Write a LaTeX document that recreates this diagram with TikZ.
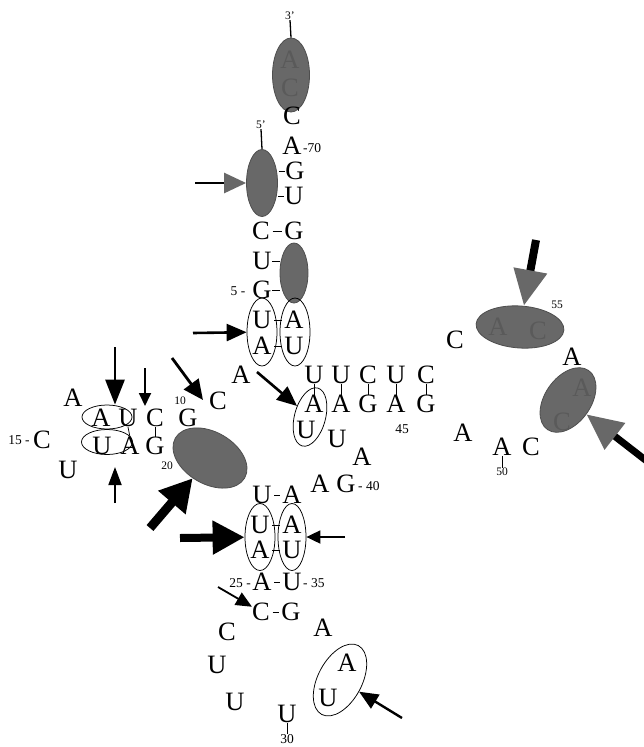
\documentclass[tikz,border=0pt]{standalone}
\usepackage{fontspec}
\setmainfont{Liberation Serif}
\usetikzlibrary{arrows.meta,shapes.geometric}
\definecolor{blobgray}{RGB}{104,104,104}
\definecolor{blobedge}{RGB}{78,78,78}
\definecolor{ghostgray}{RGB}{90,90,90}
\begin{document}
\begin{tikzpicture}[x=1pt,y=-1pt,
  nt/.style={font=\fontsize{26.5}{26.5}\selectfont, inner sep=0pt},
  num/.style={font=\fontsize{13.5}{13.5}\selectfont, inner sep=0pt},
  tiny/.style={font=\fontsize{11.5}{11.5}\selectfont, inner sep=0pt},
  ghost/.style={nt, text=ghostgray},
  ring/.style={draw, ellipse, line width=0.75pt, inner sep=0pt},
  blob/.style={ellipse, fill=blobgray, draw=blobedge, line width=0.8pt, inner sep=0pt},
  bond/.style={line width=0.9pt, shorten <=2.5pt, shorten >=2.5pt},
  tick/.style={line width=0.75pt},
  endtick/.style={line width=1.3pt},
  arrS/.style={line width=1.8pt, -{Triangle[length=13pt,width=12pt]}},
  arrM/.style={line width=2.6pt, -{Triangle[length=20pt,width=17pt]}},
  arrB/.style={line width=9pt, -{Triangle[length=32pt,width=34pt]}},
  arrG/.style={line width=2.6pt, -{Triangle[length=22pt,width=20pt,color=blobgray]}},
  arrGB/.style={line width=8pt, -{Triangle[length=36pt,width=32pt,color=blobgray]}},
]
\useasboundingbox (0,0) rectangle (643,747);

% ---------------- acceptor stem, 3' and 5' ends ----------------
\node[blob, minimum width=37pt, minimum height=74pt] (g1) at (291,75) {};
\node[ghost] (g1a) at (290,60) {A};
\node[ghost] (g1c) at (290,88) {C};
\node[tiny] (p3) at (290,16) {3'};
\draw[endtick] (p3.south) -- (g1.north);
\node[nt] (c74) at (292,116) {C};
\node[tiny] (p5) at (261,125) {5'};
\node[nt] (a70) at (292,146) {A};
\node[num, anchor=west] (n70) at (303,148) {-70};
\node[blob, minimum width=31pt, minimum height=67pt] (g2) at (262,183) {};
\draw[endtick] (p5.south) -- (g2.north);
\node[nt] (g71) at (295,171) {G};
\node[nt] (u72) at (294,196) {U};
\draw[tick] (g71.west) -- ++(-6,0);
\draw[tick] (u72.west) -- ++(-6,0);
\coordinate (t1) at (195,183);
\draw[arrG] (t1) -- (g2);

\node[nt] (c3) at (261,231) {C};
\node[nt] (g3) at (294,231) {G};
\node[blob, minimum width=28pt, minimum height=60pt] (g3b) at (294,273) {};
\draw[bond] (c3) -- (g3);
\node[nt] (u4) at (262,261) {U};
\node[nt] (g5) at (262,290) {G};
\node[num] (n5) at (238,291) {5 -};
\draw[tick] (u4.east) -- (g3b.west |- u4.east);
\draw[tick] (g5.east) -- (g3b.west |- g5.east);

% open pair U6-A67 / A7-U66
\node[ring, minimum width=30pt, minimum height=68pt] (r1) at (262,332) {};
\node[ring, minimum width=30pt, minimum height=68pt] (r2) at (295,332) {};
\node[nt] (u6) at (262,320) {U};
\node[nt] (a7) at (262,346) {A};
\node[nt] (a67) at (294,320) {A};
\node[nt] (u66) at (294,346) {U};
\draw[bond] (u6) -- (a67);
\draw[bond] (a7) -- (u66);
\coordinate (t2) at (193,333);
\draw[arrM] (t2) -- (r1);

\node[nt] (a8) at (241,375) {A};

% ---------------- T arm ----------------
\foreach \i/\x/\top/\bot in {1/314/U/A, 2/341/U/A, 3/368/C/G, 4/396/U/A, 5/426/C/G} {
  \node[nt] (tt\i) at (\x,375) {\top};
  \node[nt] (tb\i) at (\x,404) {\bot};
  \draw[tick] (tt\i.south) -- (tb\i.north);
}
\node[ring, minimum width=31pt, minimum height=60pt, rotate=-15] (r3) at (310,417) {};
\node[nt] (u48) at (306,430) {U};
\node[num] (n45) at (402,429) {45};
\coordinate (t3) at (257,372);
\draw[arrM] (t3) -- (r3);

\node[nt] (u47) at (337,439) {U};
\node[nt] (a46) at (362,457) {A};
\node[nt] (a41) at (320,484) {A};
\node[nt] (g40) at (346,484) {G};
\node[num, anchor=west] (n40) at (358,486) {- 40};

% ---------------- T loop (right) ----------------
\node[nt] (c56) at (455,340) {C};
\node[blob, minimum width=88pt, minimum height=42pt, rotate=-4] (g5b) at (520,327) {};
\node[ghost] (g5a) at (498,327) {A};
\node[ghost] (g5c) at (538,331) {C};
\node[tiny] (n55) at (557,305) {55};
\coordinate (t4) at (536,240);
\draw[arrGB] (t4) -- (g5b);
\node[nt] (a52) at (572,357) {A};
\node[blob, minimum width=72pt, minimum height=46pt, rotate=55] (g6) at (568,400) {};
\node[ghost] (g6a) at (582,388) {A};
\node[ghost] (g6c) at (562,422) {C};
\coordinate (t5) at (648,462);
\draw[arrGB, line width=7pt] (t5) -- (g6);
\node[nt] (a49) at (463,433) {A};
\node[nt] (a50) at (502,447) {A};
\node[tiny] (n50) at (502,472) {50};
\draw[tick] (a50.south) -- (n50.north);
\node[nt] (c51) at (531,447) {C};

% ---------------- D arm (left) ----------------
\node[nt] (a14) at (73,398) {A};
\node[ring, minimum width=50pt, minimum height=24pt] (rt) at (107,417) {};
\node[ring, minimum width=51pt, minimum height=25pt] (rb) at (107,442) {};
\node[nt] (a12) at (101,418) {A};
\node[nt] (u11) at (128,418) {U};
\node[nt] (c10) at (155,418) {C};
\node[nt] (g9) at (188,418) {G};
\node[tiny] (n10) at (180,401) {10};
\node[nt] (u22) at (102,446) {U};
\node[nt] (a21) at (130,446) {A};
\node[nt] (g20) at (155,446) {G};
\draw[tick] (u11.south) -- (a21.north);
\draw[tick] (c10.south) -- (g20.north);
\node[nt] (c15) at (42,440) {C};
\node[num] (n15) at (19,440) {15 -};
\node[nt] (u16) at (68,470) {U};
\node[tiny] (n20) at (167,466) {20};
\node[nt] (c13) at (218,401) {C};

\coordinate (t6) at (115,347);
\draw[line width=2.8pt, -{Triangle[length=25pt,width=19pt]}] (t6) -- (t6 |- rt.north);
\coordinate (t7) at (145,368);
\coordinate (h7) at (145,406);
\draw[arrS] (t7) -- (h7);
\coordinate (t8) at (172,358);
\coordinate (h8) at (203,400);
\draw[line width=2.8pt, -{Triangle[length=20pt,width=18pt]}] (t8) -- (h8);
\coordinate (t9) at (115,503);
\coordinate (h9) at (115,467);
\draw[line width=1.8pt, -{Triangle[length=18pt,width=13pt]}] (t9) -- (h9);

\node[blob, minimum width=80pt, minimum height=52pt, rotate=-30] (g4) at (210,458) {};
\coordinate (t10) at (150,528);
\draw[arrB] (t10) -- (g4);

% ---------------- anticodon arm ----------------
\node[nt] (u27) at (262,495) {U};
\node[nt] (a43) at (292,495) {A};
\draw[bond] (u27) -- (a43);
\node[ring, minimum width=30pt, minimum height=67pt] (r4) at (260,537) {};
\node[ring, minimum width=28pt, minimum height=67pt] (r5) at (292,537) {};
\node[nt] (u26) at (260,525) {U};
\node[nt] (a25) at (260,550) {A};
\node[nt] (a38) at (292,525) {A};
\node[nt] (u37) at (292,550) {U};
\draw[bond] (u26) -- (a38);
\draw[bond] (a25) -- (u37);
\coordinate (t11) at (180,538);
\draw[line width=8pt, -{Triangle[length=32pt,width=32pt]}] (t11) -- (r4);
\coordinate (t12) at (345,537);
\draw[line width=1.8pt, -{Triangle[length=14pt,width=13pt]}] (t12) -- (r5);

\node[nt] (a24) at (262,582) {A};
\node[nt] (u36) at (292,582) {U};
\draw[bond] (a24) -- (u36);
\node[num, anchor=east] (n25) at (251,583) {25 -};
\node[num, anchor=west] (n35) at (303,583) {- 35};
\node[nt] (c23) at (261,612) {C};
\node[nt] (g35) at (291,612) {G};
\draw[bond] (c23) -- (g35);
\coordinate (t13) at (218,587);
\draw[line width=1.8pt, -{Triangle[length=16pt,width=14pt]}] (t13) -- (c23);

\node[nt] (c32) at (227,632) {C};
\node[nt] (a34) at (323,628) {A};
\node[nt] (u31) at (217,665) {U};
\node[nt] (u30) at (235,702) {U};
\node[nt] (u29) at (287,714) {U};
\node[num] (n30) at (287,739) {30};
\draw[tick] (u29.south) -- (n30.north);
\node[ring, minimum width=78pt, minimum height=44pt, rotate=62] (r6) at (340,680) {};
\node[nt] (a33) at (347,663) {A};
\node[nt] (u33) at (328,698) {U};
\coordinate (t14) at (402,718);
\draw[line width=2.4pt, -{Triangle[length=19pt,width=16pt]}] (t14) -- (r6);
\end{tikzpicture}
\end{document}
